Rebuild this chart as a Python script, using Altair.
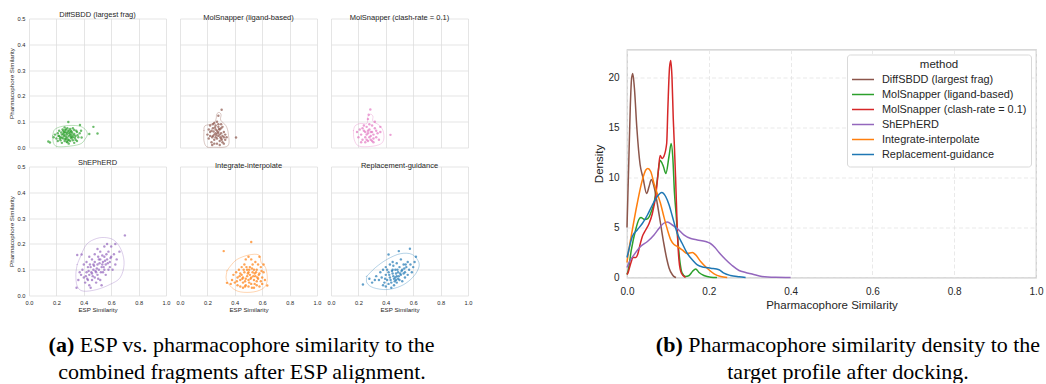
import altair as alt
import pandas as pd

FONT = "Liberation Sans"
SERIF = "Liberation Serif"
TXT = "#262626"

# ---------------- left: scatter panels ----------------
panel_names = ["DiffSBDD (largest frag)", "MolSnapper (ligand-based)", "MolSnapper (clash-rate = 0.1)",
               "ShEPhERD", "Integrate-interpolate", "Replacement-guidance"]
panel_colors = ["#2ca02c", "#8c564b", "#e377c2", "#9467bd", "#ff7f0e", "#1f77b4"]
esp_ticks = [0.0, 0.2, 0.4, 0.6, 0.8, 1.0]
ph_ticks = [0.0, 0.1, 0.2, 0.3, 0.4, 0.5]

pts_diffsbdd = [(0.22,0.045),(0.24,0.05),(0.25,0.035),(0.26,0.06),(0.27,0.042),(0.28,0.055),(0.29,0.03),(0.3,0.048),(0.31,0.062),(0.32,0.04),
    (0.23,0.028),(0.25,0.065),(0.27,0.07),(0.29,0.066),(0.31,0.035),(0.33,0.052),(0.34,0.045),(0.26,0.025),(0.28,0.02),(0.3,0.025),
    (0.24,0.038),(0.26,0.048),(0.28,0.038),(0.3,0.058),(0.32,0.028),(0.35,0.06),(0.36,0.04),(0.21,0.055),(0.2,0.035),(0.22,0.065),
    (0.27,0.058),(0.29,0.045),(0.31,0.05),(0.33,0.068),(0.25,0.052),(0.23,0.04),(0.28,0.075),(0.3,0.072),(0.26,0.078),(0.32,0.075),
    (0.34,0.03),(0.37,0.055),(0.38,0.065),(0.24,0.018),(0.29,0.015),(0.33,0.018),(0.18,0.04),(0.19,0.05),(0.21,0.025),(0.35,0.025),
    (0.235,0.058),(0.255,0.044),(0.265,0.033),(0.275,0.05),(0.285,0.062),(0.295,0.054),(0.305,0.04),(0.315,0.057),(0.325,0.047),(0.245,0.07),
    (0.265,0.068),(0.285,0.028),(0.305,0.065),(0.225,0.035),(0.345,0.065),(0.355,0.048),(0.215,0.045),(0.275,0.022),(0.335,0.038),(0.255,0.058),
    (0.287,0.099),(0.372,0.087),(0.47,0.08),(0.5,0.054),(0.141,0.023),(0.153,0.019),(0.44,0.052),(0.384,0.039),(0.27,0.032),(0.31,0.043)]
pts_ms_ligand = [(0.22,0.06),(0.24,0.075),(0.25,0.05),(0.26,0.085),(0.27,0.065),(0.28,0.045),(0.29,0.07),(0.3,0.055),(0.31,0.08),(0.32,0.04),
    (0.21,0.035),(0.23,0.02),(0.25,0.03),(0.27,0.015),(0.29,0.025),(0.31,0.02),(0.33,0.03),(0.22,0.085),(0.24,0.09),(0.28,0.09),
    (0.3,0.075),(0.26,0.04),(0.28,0.06),(0.24,0.045),(0.32,0.06),(0.33,0.05),(0.23,0.065),(0.26,0.07),(0.3,0.035),(0.27,0.035),
    (0.25,0.015),(0.29,0.01),(0.31,0.045),(0.21,0.07),(0.2,0.05),(0.34,0.04),(0.28,0.08),(0.26,0.055),(0.22,0.045),(0.3,0.09),
    (0.245,0.062),(0.265,0.048),(0.285,0.072),(0.305,0.03),(0.235,0.04),(0.275,0.055),(0.295,0.04),(0.255,0.078),
    (0.304,0.146),(0.409,0.039),(0.28,0.123),(0.235,0.01),(0.32,0.015),(0.27,0.1),(0.25,0.095),(0.29,0.05)]
pts_ms_clash = [(0.22,0.05),(0.24,0.065),(0.25,0.04),(0.26,0.08),(0.27,0.055),(0.28,0.07),(0.29,0.045),(0.3,0.06),(0.31,0.035),(0.32,0.075),
    (0.23,0.03),(0.25,0.02),(0.27,0.025),(0.29,0.03),(0.31,0.02),(0.33,0.04),(0.34,0.055),(0.21,0.07),(0.24,0.085),(0.28,0.09),
    (0.3,0.085),(0.26,0.05),(0.28,0.04),(0.35,0.03),(0.36,0.06),(0.2,0.04),(0.22,0.02),(0.33,0.065),(0.27,0.065),(0.29,0.06),
    (0.25,0.06),(0.31,0.05),(0.23,0.075),(0.3,0.025),(0.26,0.03),
    (0.287,0.147),(0.434,0.049),(0.275,0.127),(0.27,0.11),(0.32,0.1),(0.19,0.06),(0.36,0.08)]
pts_shepherd = [(0.40,0.07),(0.42,0.09),(0.44,0.08),(0.45,0.11),(0.46,0.06),(0.47,0.1),(0.48,0.13),(0.49,0.09),(0.5,0.12),(0.51,0.1),
    (0.52,0.14),(0.53,0.11),(0.54,0.13),(0.55,0.15),(0.56,0.12),(0.57,0.14),(0.58,0.17),(0.59,0.13),(0.6,0.15),(0.62,0.16),
    (0.41,0.05),(0.43,0.06),(0.44,0.04),(0.46,0.085),(0.48,0.07),(0.5,0.08),(0.52,0.06),(0.54,0.09),(0.56,0.08),(0.58,0.1),
    (0.38,0.08),(0.39,0.1),(0.4,0.12),(0.42,0.13),(0.44,0.15),(0.46,0.14),(0.48,0.16),(0.5,0.18),(0.52,0.17),(0.55,0.19),
    (0.57,0.2),(0.6,0.19),(0.63,0.12),(0.64,0.14),(0.61,0.1),(0.45,0.03),(0.49,0.05),(0.53,0.04),(0.47,0.12),(0.51,0.14),
    (0.43,0.11),(0.55,0.1),(0.59,0.11),(0.36,0.06),(0.37,0.09),
    (0.415,0.075),(0.435,0.095),(0.455,0.09),(0.475,0.115),(0.495,0.105),(0.515,0.125),(0.535,0.12),(0.555,0.135),(0.575,0.125),(0.525,0.09),
    (0.465,0.075),(0.505,0.065),(0.545,0.11),(0.485,0.095),(0.425,0.065),(0.565,0.16),(0.535,0.155),(0.505,0.15),(0.595,0.145),(0.445,0.12),
    (0.70,0.233),(0.352,0.157),(0.384,0.159),(0.347,0.03),(0.66,0.17),(0.63,0.2)]
pts_integrate = [(0.40,0.05),(0.42,0.07),(0.44,0.06),(0.45,0.08),(0.46,0.05),(0.47,0.09),(0.48,0.065),(0.49,0.075),(0.5,0.06),(0.51,0.08),
    (0.52,0.07),(0.53,0.09),(0.54,0.06),(0.55,0.075),(0.56,0.1),(0.57,0.065),(0.58,0.085),(0.59,0.055),(0.6,0.07),(0.61,0.09),
    (0.41,0.09),(0.43,0.1),(0.45,0.11),(0.47,0.12),(0.49,0.1),(0.51,0.11),(0.53,0.12),(0.55,0.13),(0.57,0.12),(0.59,0.11),
    (0.42,0.04),(0.44,0.035),(0.46,0.03),(0.48,0.04),(0.5,0.035),(0.52,0.045),(0.54,0.03),(0.56,0.04),(0.58,0.035),(0.6,0.045),
    (0.38,0.06),(0.39,0.08),(0.37,0.045),(0.62,0.06),(0.61,0.12),(0.48,0.14),(0.52,0.14),(0.5,0.09),(0.46,0.07),(0.54,0.1),
    (0.44,0.085),(0.56,0.055),
    (0.415,0.055),(0.435,0.075),(0.455,0.065),(0.475,0.055),(0.495,0.085),(0.515,0.065),(0.535,0.075),(0.555,0.09),(0.575,0.08),(0.595,0.095),
    (0.465,0.1),(0.485,0.11),(0.505,0.1),(0.525,0.105),(0.545,0.085),(0.565,0.07),(0.505,0.05),(0.525,0.03),(0.475,0.035),(0.545,0.045),
    (0.319,0.172),(0.52,0.207),(0.637,0.039),(0.343,0.049),(0.5,0.15),(0.58,0.15)]
pts_replacement = [(0.35,0.06),(0.37,0.07),(0.39,0.05),(0.4,0.08),(0.41,0.06),(0.42,0.09),(0.43,0.07),(0.44,0.05),(0.45,0.085),(0.46,0.065),
    (0.47,0.1),(0.48,0.075),(0.49,0.09),(0.5,0.11),(0.51,0.08),(0.52,0.1),(0.53,0.12),(0.54,0.09),(0.55,0.11),(0.56,0.13),
    (0.38,0.04),(0.4,0.035),(0.42,0.045),(0.44,0.03),(0.46,0.04),(0.48,0.05),(0.5,0.06),(0.52,0.055),(0.54,0.07),(0.56,0.08),
    (0.3,0.05),(0.32,0.06),(0.33,0.075),(0.36,0.09),(0.38,0.1),(0.4,0.11),(0.43,0.12),(0.45,0.13),(0.48,0.125),(0.51,0.14),
    (0.57,0.1),(0.58,0.12),(0.6,0.11),(0.61,0.13),(0.59,0.09),(0.47,0.07),(0.49,0.065),(0.45,0.1),(0.41,0.1),(0.53,0.085),
    (0.435,0.06),(0.455,0.075),(0.475,0.085),(0.495,0.075),(0.515,0.095),(0.445,0.095),(0.465,0.055),(0.485,0.1),(0.505,0.085),(0.425,0.08),
    (0.535,0.105),(0.455,0.115),(0.395,0.065),(0.545,0.12),(0.475,0.06),
    (0.233,0.043),(0.495,0.172),(0.576,0.181),(0.42,0.159),(0.28,0.065),(0.62,0.15)]

# outer density contours
ct_diffsbdd = [(0.173,0.045),(0.19,0.071),(0.263,0.084),(0.36,0.084),(0.409,0.071),(0.426,0.052),(0.409,0.032),
               (0.372,0.013),(0.275,0.004),(0.202,0.004),(0.178,0.019)]
ct_ms_ligand = [(0.175,0.065),(0.182,0.084),(0.243,0.093),(0.263,0.11),(0.268,0.129),(0.285,0.136),(0.30,0.127),
                (0.297,0.106),(0.336,0.084),(0.353,0.052),(0.348,0.006),(0.243,0.001),(0.195,0.003),(0.175,0.026)]
ct_ms_clash = [(0.164,0.065),(0.176,0.084),(0.213,0.093),(0.262,0.093),(0.267,0.116),(0.287,0.129),(0.306,0.121),
               (0.306,0.101),(0.348,0.088),(0.38,0.065),(0.385,0.032),(0.36,0.013),(0.287,0.004),(0.201,0.006),(0.169,0.032)]
ct_shepherd = [(0.352,0.12),(0.372,0.146),(0.42,0.198),(0.494,0.221),(0.567,0.224),(0.628,0.211),(0.677,0.172),
               (0.694,0.12),(0.665,0.069),(0.592,0.043),(0.494,0.023),(0.396,0.017),(0.352,0.036),(0.342,0.082)]
ct_integrate = [(0.343,0.095),(0.368,0.114),(0.417,0.14),(0.502,0.157),(0.576,0.157),(0.593,0.127),(0.625,0.108),
                (0.637,0.062),(0.613,0.03),(0.539,0.014),(0.441,0.014),(0.38,0.03),(0.338,0.062)]
ct_replacement = [(0.262,0.075),(0.324,0.108),(0.409,0.14),(0.507,0.162),(0.593,0.159),(0.642,0.127),(0.63,0.095),
                  (0.581,0.062),(0.507,0.036),(0.409,0.023),(0.311,0.03),(0.262,0.049)]

panel_points = [pts_diffsbdd, pts_ms_ligand, pts_ms_clash, pts_shepherd, pts_integrate, pts_replacement]
panel_contours = [ct_diffsbdd, ct_ms_ligand, ct_ms_clash, ct_shepherd, ct_integrate, ct_replacement]

# ---------------- right: density curves ----------------
density_methods = ["DiffSBDD (largest frag)", "MolSnapper (ligand-based)", "MolSnapper (clash-rate = 0.1)",
                   "ShEPhERD", "Integrate-interpolate", "Replacement-guidance"]
density_colors = ["#8c564b", "#2ca02c", "#d62728", "#9467bd", "#ff7f0e", "#1f77b4"]
dx_diffsbdd = [0.0,0.004,0.008,0.011,0.014,0.018,0.024,0.032,0.039,0.048,0.054,0.0595,0.066,0.074,0.082,0.09,0.097,0.103,0.111,0.1165,0.12]
dy_diffsbdd = [5.0,11.0,17.0,19.8,20.4,19.0,15.0,11.3,10.0,8.4,9.1,9.8,9.1,7.4,5.4,3.4,1.9,0.93,0.27,0.05,0.0]
dx_ligand = [0.0,0.0024,0.0106,0.021,0.029,0.034,0.043,0.051,0.0595,0.0676,0.074,0.081,0.089,0.095,0.103,0.108,0.112,0.116,0.12,0.125,0.13,0.135,0.143,0.152,0.16,0.168,0.176,0.188,0.205,0.22]
dy_ligand = [0.3,0.6,2.76,4.75,5.8,6.0,5.8,5.9,6.6,7.75,9.75,11.7,11.1,10.4,12.2,13.4,12.0,8.5,6.4,3.4,1.4,0.43,0.1,0.2,0.6,0.85,0.5,0.2,0.03,0.0]
dx_clash = [0.0,0.002,0.009,0.015,0.022,0.026,0.032,0.0375,0.0456,0.054,0.062,0.07,0.076,0.081,0.086,0.09,0.097,0.1,0.104,0.107,0.11,0.113,0.116,0.119,0.123,0.127,0.133,0.143]
dy_clash = [0.3,0.43,1.4,2.0,2.0,2.3,3.3,4.1,4.75,5.4,6.4,8.1,10.4,12.2,11.9,12.1,13.4,17.0,21.0,21.7,20.0,16.0,13.0,9.75,4.75,1.76,0.43,0.0]
dx_shepherd = [0.0,0.005,0.017,0.033,0.05,0.066,0.078,0.089,0.0986,0.111,0.123,0.139,0.156,0.172,0.192,0.204,0.215,0.225,0.241,0.257,0.274,0.29,0.306,0.33,0.363,0.4]
dy_shepherd = [1.0,1.5,2.26,3.1,3.6,4.26,4.9,5.4,5.55,5.25,4.9,4.26,3.9,3.76,3.6,3.4,3.0,2.5,1.8,1.2,0.7,0.5,0.35,0.1,0.02,0.0]
dx_integrate = [0.0,0.002,0.013,0.025,0.0375,0.046,0.051,0.058,0.066,0.074,0.082,0.09,0.099,0.107,0.115,0.123,0.135,0.147,0.16,0.168,0.18,0.196,0.213,0.229,0.245]
dy_integrate = [1.5,2.1,4.75,7.4,9.75,10.75,10.9,10.6,9.4,8.4,7.4,6.1,4.75,3.76,3.3,3.1,2.76,2.4,2.5,2.26,1.6,0.93,0.37,0.1,0.0]
dx_replacement = [0.0,0.0024,0.013,0.025,0.0375,0.05,0.062,0.074,0.085,0.0945,0.103,0.111,0.123,0.135,0.1475,0.16,0.172,0.188,0.205,0.225,0.237,0.253,0.274,0.29]
dy_replacement = [2.0,2.4,4.1,4.75,5.4,6.25,7.25,8.1,8.5,8.1,7.25,6.1,4.4,3.4,2.4,1.76,1.26,1.03,0.93,0.77,0.43,0.2,0.07,0.0]
density_x = [dx_diffsbdd, dx_ligand, dx_clash, dx_shepherd, dx_integrate, dx_replacement]
density_y = [dy_diffsbdd, dy_ligand, dy_clash, dy_shepherd, dy_integrate, dy_replacement]
density_ticks = [0, 5, 10, 15, 20]
ph_ticks_right = [0.0, 0.2, 0.4, 0.6, 0.8, 1.0]

caption_a = ["(a)", "ESP vs. pharmacophore similarity to the", "combined fragments after ESP alignment."]
caption_b = ["(b)", "Pharmacophore similarity density to the", "target profile after docking."]

# ---------------- build left panels ----------------
PW, PH = 137, 129
GRID_L = "#dedede"


def panel(name, pts, contour, color, show_x, show_y):
    df = pd.DataFrame(pts, columns=["esp", "ph"])
    cdf = pd.DataFrame(list(contour) + [contour[0]], columns=["esp", "ph"])
    cdf["k"] = range(len(cdf))
    xaxis = alt.Axis(values=esp_ticks, format=".1f", grid=True, gridColor=GRID_L, gridWidth=0.8,
                     domain=False, ticks=False, tickSize=0, labels=show_x, labelFontSize=5.7,
                     labelPadding=4, labelFlush=False, labelOverlap=False, labelColor=TXT,
                     title="ESP Similarity" if show_x else None, titleFontSize=6.2,
                     titleFontWeight="normal", titlePadding=1.5, titleColor=TXT)
    yaxis = alt.Axis(values=ph_ticks, format=".1f", grid=True, gridColor=GRID_L, gridWidth=0.8,
                     domain=False, ticks=False, tickSize=0, labels=show_y, labelFontSize=5.7,
                     labelPadding=4, labelFlush=False, labelOverlap=False, labelColor=TXT,
                     title="Pharmacophore Similarity" if show_y else None, titleFontSize=6.2,
                     titleFontWeight="normal", titlePadding=2.5, titleColor=TXT)
    xs = alt.Scale(domain=[0, 1], nice=False, zero=False)
    ys = alt.Scale(domain=[0, 0.5], nice=False, zero=False)
    X = alt.X("esp:Q", scale=xs, axis=xaxis)
    Y = alt.Y("ph:Q", scale=ys, axis=yaxis)
    cont = alt.Chart(cdf).mark_line(color=color, strokeWidth=0.6, opacity=0.55,
                                    interpolate="cardinal-closed").encode(x=X, y=Y, order="k:Q")
    dots = alt.Chart(df).mark_circle(color=color, size=6, opacity=0.7).encode(x=X, y=Y)
    return alt.layer(cont, dots).properties(
        width=PW, height=PH,
        title=alt.TitleParams(name, fontSize=7.5, fontWeight="normal", color=TXT, offset=-3,
                              anchor="middle", frame="group"))


panels = []
for i in range(6):
    panels.append(panel(panel_names[i], panel_points[i], panel_contours[i], panel_colors[i],
                        show_x=i >= 3, show_y=i % 3 == 0))

left_block = alt.concat(*panels, columns=3, spacing={"row": 19, "column": 14},
                        bounds="flush", align="all")

# ---------------- build density chart ----------------
rows = []
for m, xs_, ys_ in zip(density_methods, density_x, density_y):
    for k, (a, b) in enumerate(zip(xs_, ys_)):
        rows.append({"method": m, "x": a, "y": b, "k": k})
dens = pd.DataFrame(rows)

GRID_R = "#e3e3e3"
density = alt.Chart(dens).mark_line(strokeWidth=1.5, interpolate="monotone").encode(
    x=alt.X("x:Q", scale=alt.Scale(domain=[0, 1], nice=False, zero=False),
            axis=alt.Axis(values=ph_ticks_right, format=".1f", title="Pharmacophore Similarity",
                          grid=True, gridColor=GRID_R, gridDash=[4, 2.5], gridWidth=0.8,
                          domain=False, ticks=False, tickSize=0, labelFontSize=10, labelPadding=9,
                          labelFlush=False, labelOverlap=False, labelColor=TXT,
                          titleFontSize=11.5, titleFontWeight="normal", titlePadding=3, titleColor=TXT)),
    y=alt.Y("y:Q", scale=alt.Scale(domain=[0, 22.8], nice=False, zero=True),
            axis=alt.Axis(values=density_ticks, title="Density", grid=True, gridColor=GRID_R,
                          gridDash=[4, 2.5], gridWidth=0.8, domain=False, ticks=False, tickSize=0,
                          labelFontSize=10, labelPadding=8, labelFlush=False, labelOverlap=False,
                          labelColor=TXT, titleFontSize=11.5, titleFontWeight="normal",
                          titlePadding=3, titleColor=TXT)),
    color=alt.Color("method:N", scale=alt.Scale(domain=density_methods, range=density_colors),
                    legend=alt.Legend(title="method", orient="top-right", offset=5, padding=4,
                                      fillColor="white", strokeColor="#d9d9d9", cornerRadius=3,
                                      symbolType="stroke", symbolSize=484, symbolStrokeWidth=1.6,
                                      clipHeight=15, rowPadding=0,
                                      labelFontSize=10.9, labelOffset=7, labelColor=TXT, labelLimit=400,
                                      titleFontSize=11.5, titleFontWeight="normal",
                                      titleColor=TXT, titleAnchor="middle", titlePadding=2)),
    order="k:Q",
).properties(width=409, height=228, view=alt.ViewBackground(stroke="#cccccc", strokeWidth=1.25))

spacer = alt.Chart(pd.DataFrame({"v": [0]})).mark_rule(strokeOpacity=0).encode(
    x=alt.value(0), x2=alt.value(1), y=alt.value(10)).properties(width=10, height=30)
right_block = alt.vconcat(spacer, density, spacing=0).resolve_legend(color="independent")

top = alt.hconcat(left_block, right_block, spacing=121).resolve_legend(color="independent")

# ---------------- captions ----------------
ORGX = 29   # page x of the captions' origin (aligned with the first panel)
CAP_FS = 22


def cap(txt, x, y, bold=False, align="left"):
    return alt.Chart(pd.DataFrame({"t": [txt]})).mark_text(
        font=SERIF, fontSize=CAP_FS, fontWeight="bold" if bold else "normal", align=align,
        baseline="middle", color="black").encode(text="t:N", x=alt.value(x - ORGX), y=alt.value(y))


y1, y2 = 31, 58
ca, cb = 242, 848
wa = 17.58 * CAP_FS / 2
wb = 17.47 * CAP_FS / 2
captions = alt.layer(
    cap(caption_a[0], ca - wa, y1, bold=True),
    cap(caption_a[1], ca - wa + 1.416 * CAP_FS, y1),
    cap(caption_a[2], ca, y2, align="center"),
    cap(caption_b[0], cb - wb, y1, bold=True),
    cap(caption_b[1], cb - wb + 1.472 * CAP_FS, y1),
    cap(caption_b[2], cb, y2, align="center"),
).properties(width=1010, height=69)

chart = alt.vconcat(top, captions, spacing=0).resolve_legend(color="independent").properties(
    padding={"left": 8, "top": 10.5, "right": 0, "bottom": 0}
).configure(font=FONT).configure_view(strokeWidth=0)

chart.save("out.html", embed_options={"renderer": "svg", "actions": False})
